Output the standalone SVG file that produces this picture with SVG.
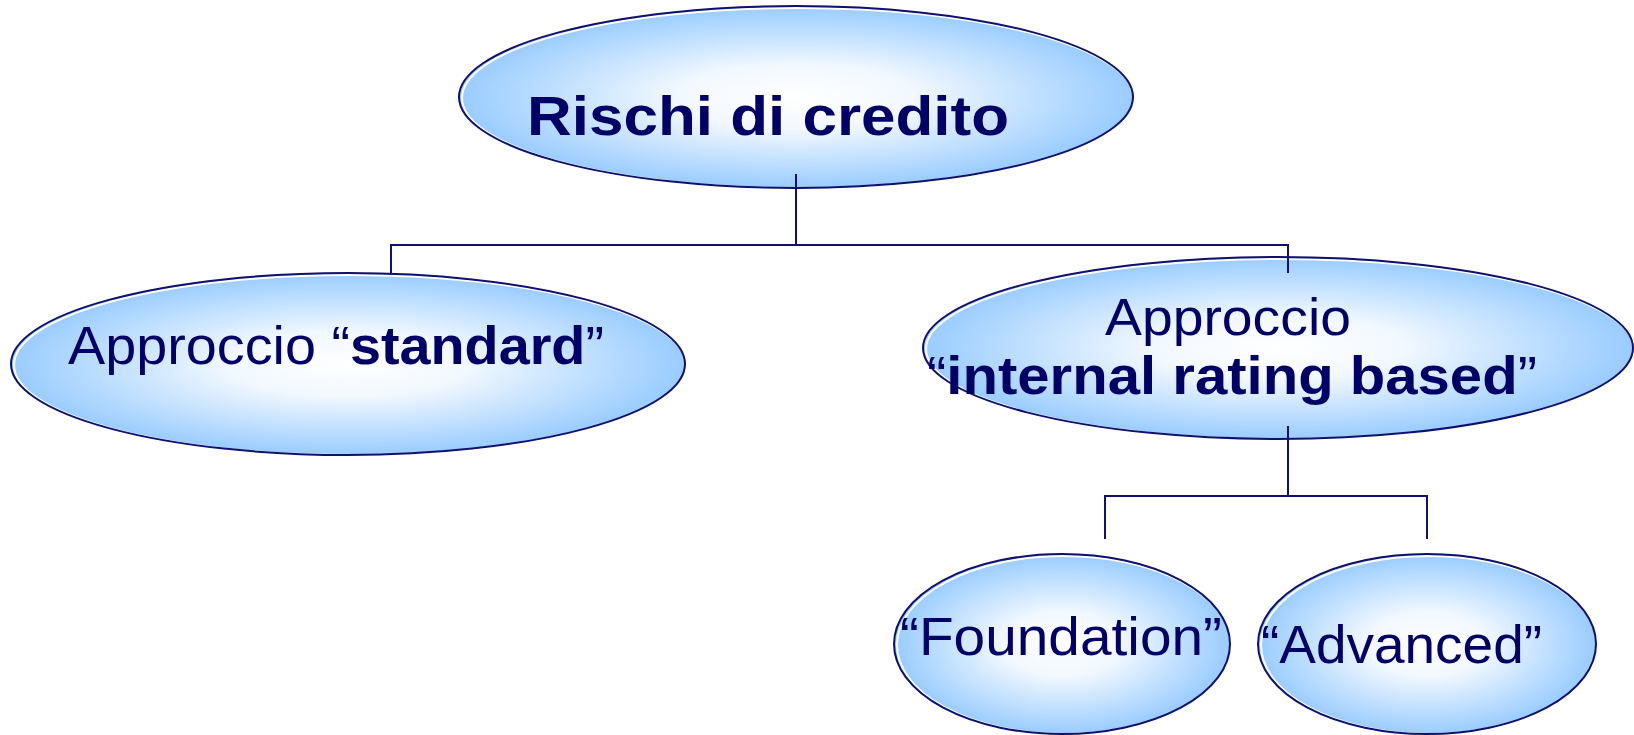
<svg xmlns="http://www.w3.org/2000/svg" width="1634" height="735" viewBox="0 0 1634 735">
  <defs>
    <radialGradient id="bubble" cx="50%" cy="50%" r="50%">
      <stop offset="0%" stop-color="#ffffff"/>
      <stop offset="35%" stop-color="#f2f8ff"/>
      <stop offset="100%" stop-color="#99ccff"/>
    </radialGradient>
  </defs>
  <style>
    .fill { fill: url(#bubble); stroke: none; }
    .hl { fill: none; stroke: #ffffff; stroke-width: 2; }
    .edge { fill: none; stroke: #10106e; stroke-width: 2; }
    .lbl { font-family: "Liberation Sans", Arial, sans-serif; fill: #000066; }
    .b { font-weight: bold; }
    .conn { fill: none; stroke: #10106e; stroke-width: 2; }
  </style>

  <g id="node-rischi">
    <ellipse class="fill" cx="796" cy="97" rx="337" ry="91"/>
    <ellipse class="hl" cx="798" cy="98" rx="336" ry="90"/>
    <ellipse class="edge" cx="796" cy="97" rx="337" ry="91"/>
    <text class="lbl b" x="527" y="135" font-size="56" textLength="482" lengthAdjust="spacingAndGlyphs">Rischi di credito</text>
  </g>

  <g id="node-standard">
    <ellipse class="fill" cx="348" cy="364" rx="337" ry="91"/>
    <ellipse class="hl" cx="350" cy="365" rx="336" ry="90"/>
    <ellipse class="edge" cx="348" cy="364" rx="337" ry="91"/>
    <text class="lbl" x="68" y="364" font-size="53" textLength="536" lengthAdjust="spacingAndGlyphs">Approccio “<tspan class="b">standard</tspan>”</text>
  </g>

  <g id="node-irb">
    <ellipse class="fill" cx="1278" cy="348" rx="355" ry="91"/>
    <ellipse class="hl" cx="1280" cy="349" rx="354" ry="90"/>
    <ellipse class="edge" cx="1278" cy="348" rx="355" ry="91"/>
    <text class="lbl" x="1105" y="335" font-size="52" textLength="246" lengthAdjust="spacingAndGlyphs">Approccio</text>
    <text class="lbl" x="927" y="394" font-size="53" textLength="610" lengthAdjust="spacingAndGlyphs">“<tspan class="b">internal rating based</tspan>”</text>
  </g>

  <g id="node-foundation">
    <ellipse class="fill" cx="1062" cy="644" rx="168" ry="90"/>
    <ellipse class="hl" cx="1064" cy="645" rx="167" ry="89"/>
    <ellipse class="edge" cx="1062" cy="644" rx="168" ry="90"/>
    <text class="lbl" x="900" y="655" font-size="53" textLength="322" lengthAdjust="spacingAndGlyphs">“Foundation”</text>
  </g>

  <g id="node-advanced">
    <ellipse class="fill" cx="1427" cy="644" rx="169" ry="90"/>
    <ellipse class="hl" cx="1429" cy="645" rx="168" ry="89"/>
    <ellipse class="edge" cx="1427" cy="644" rx="169" ry="90"/>
    <text class="lbl" x="1261" y="663" font-size="53" textLength="281" lengthAdjust="spacingAndGlyphs">“Advanced”</text>
  </g>

  <g id="connectors">
    <polyline class="conn" points="796,174 796,245"/>
    <polyline class="conn" points="391,273 391,245 1288,245 1288,273"/>
    <polyline class="conn" points="1288,426 1288,496"/>
    <polyline class="conn" points="1105,539 1105,496 1427,496 1427,539"/>
  </g>
</svg>
